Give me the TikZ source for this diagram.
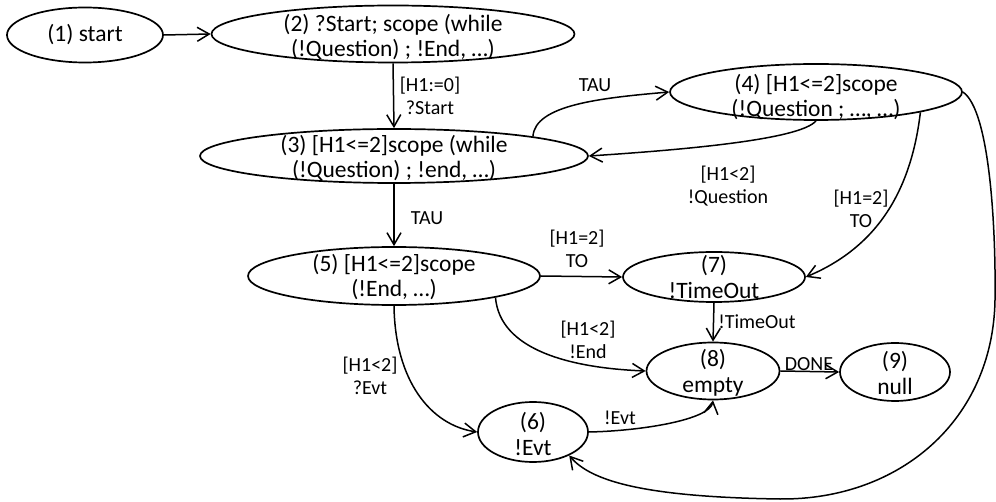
\documentclass[tikz,border=0pt]{standalone}
\usepackage{fontspec}
\setmainfont{Carlito}
\usetikzlibrary{arrows.meta,shapes.geometric}
\begin{document}
\begin{tikzpicture}[x=1pt,y=-1pt,
  st/.style={draw, ellipse, line width=1.7pt, inner sep=0pt},
  txt/.style={align=center, inner sep=0pt, font=\fontsize{23.5}{25.5}\selectfont},
  lbl/.style={align=center, inner sep=0pt, font=\fontsize{20}{23}\selectfont},
  conn/.style={line width=1.5pt, -{Straight Barb[length=12pt,width=14pt,line width=1.5pt]}},
]
\useasboundingbox (0,0) rectangle (996,502);
% states
\node[st, minimum width=156pt, minimum height=55pt] (n1) at (85,35) {};
\node[st, minimum width=363pt, minimum height=57pt] (n2) at (393,34) {};
\node[st, minimum width=388pt, minimum height=54pt] (n3) at (394,156) {};
\node[st, minimum width=292pt, minimum height=56pt] (n4) at (816,92) {};
\node[st, minimum width=292pt, minimum height=58pt] (n5) at (394,276) {};
\node[st, minimum width=110pt, minimum height=60pt] (n6) at (533,432) {};
\node[st, minimum width=182pt, minimum height=50pt] (n7) at (714,277) {};
\node[st, minimum width=133pt, minimum height=57pt] (n8) at (713,371) {};
\node[st, minimum width=110pt, minimum height=58pt] (n9) at (895,372) {};
% state texts
\node[txt] (t1) at (85,35) {(1) start};
\node[txt] (t2) at (393,37) {(2) ?Start; scope (while\\(!Question) ; !End, …)};
\node[txt] (t3) at (394,158) {(3) [H1<=2]scope (while\\(!Question) ; !end, …)};
\node[txt] (t4) at (816,97) {(4) [H1<=2]scope\\(!Question ; …, …)};
\node[txt] (t5) at (394,277) {(5) [H1<=2]scope\\(!End, …)};
\node[txt] (t6) at (533,434) {(6)\\!Evt};
\node[txt] (t7) at (714,277) {(7)\\!TimeOut};
\node[txt] (t8) at (713,373) {(8)\\empty};
\node[txt] (t9) at (895,373) {(9)\\null};
% transitions
\draw[conn] (n1.east) -- (n2.west);
\draw[conn] (n2.south) -- (n3.north);
\draw[conn] (n3.8) .. controls (535,105) and (600,98) .. (n4.west);
\draw[conn] (n4.south) .. controls (800,140) and (680,150) .. (n3.east);
\draw[conn] (n4.-11) .. controls (910,200) and (870,250) .. (n7.east);
\draw[conn] (n4.east) .. controls (990,110) and (996,230) .. (995,300)
  .. controls (993,420) and (900,500) .. (780,499)
  .. controls (640,497) and (590,480) .. (n6.-33);
\draw[conn] (n3.south) -- (n5.north);
\draw[conn] (n5.east) -- (n7.west);
\draw[conn] (n5.-12) .. controls (500,350) and (570,368) .. (n8.west);
\draw[conn] (n5.south) .. controls (395,380) and (430,425) .. (n6.west);
\draw[conn] (n7.south) -- (n8.north);
\draw[conn] (n8.east) -- (n9.west);
\draw[conn] (n6.east) .. controls (640,431) and (710,420) .. (n8.south);
% transition labels
\node[lbl] (l23) at (430,96) {[H1:=0]\\?Start};
\node[lbl] (l34) at (595,85) {TAU};
\node[lbl] (l43) at (728,186) {[H1<2]\\!Question};
\node[lbl] (l47) at (861,209) {[H1=2]\\TO};
\node[lbl] (l35) at (427,218) {TAU};
\node[lbl] (l57) at (577,249) {[H1=2]\\TO};
\node[lbl] (l58) at (588,340) {[H1<2]\\!End};
\node[lbl] (l56) at (370,376) {[H1<2]\\?Evt};
\node[lbl] (l78) at (757,322) {!TimeOut};
\node[lbl] (l89) at (809,364) {DONE};
\node[lbl] (l68) at (620,418) {!Evt};
\end{tikzpicture}
\end{document}
